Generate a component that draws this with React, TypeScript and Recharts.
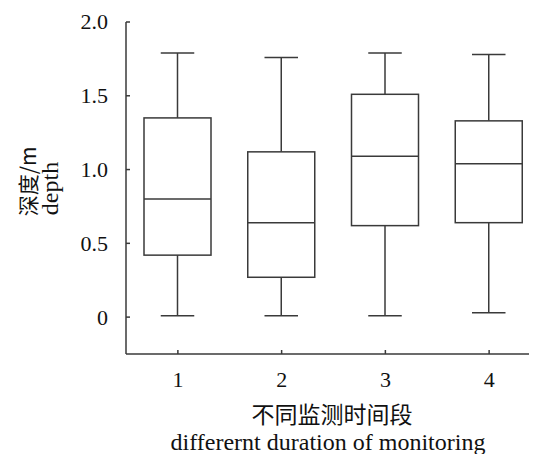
import React from "react";
import { ComposedChart, Bar, XAxis, YAxis } from "recharts";

const categories = ["1", "2", "3", "4"];
const minValues = [0.01, 0.01, 0.01, 0.03];
const q1Values = [0.42, 0.27, 0.62, 0.64];
const medianValues = [0.8, 0.64, 1.09, 1.04];
const q3Values = [1.35, 1.12, 1.51, 1.33];
const maxValues = [1.79, 1.76, 1.79, 1.78];

const yTicks = [0, 0.5, 1.0, 1.5, 2.0];
const yTickLabels = ["0", "0.5", "1.0", "1.5", "2.0"];

const xTitleZh = "不同监测时间段";
const xTitleEn = "differernt duration of monitoring";
const yTitleZh = "深度/m";
const yTitleEn = "depth";

const data = categories.map((c, i) => ({
  name: c,
  range: [minValues[i], maxValues[i]],
  min: minValues[i],
  q1: q1Values[i],
  median: medianValues[i],
  q3: q3Values[i],
  max: maxValues[i],
}));

const STROKE = "#3a3a3a";
const SERIF = "Liberation Serif";
const CJK = "Noto Sans CJK SC";

const BoxShape = (props: any) => {
  const { x, y, width, height, index } = props;
  const d = data[index] ?? props.payload;
  if (!d) return null;
  const top = Math.min(y, y + height);
  const bottom = Math.max(y, y + height);
  const k = (bottom - top) / (d.max - d.min);
  const py = (v: number) => bottom - (v - d.min) * k;
  const cx = x + width / 2;
  const cap = width / 4;
  return (
    <g stroke={STROKE} strokeWidth={1.5} fill="none">
      <line x1={cx - cap} x2={cx + cap} y1={py(d.max)} y2={py(d.max)} />
      <line x1={cx} x2={cx} y1={py(d.max)} y2={py(d.q3)} />
      <rect x={x} y={py(d.q3)} width={width} height={py(d.q1) - py(d.q3)} fill="#fff" />
      <line x1={x} x2={x + width} y1={py(d.median)} y2={py(d.median)} />
      <line x1={cx} x2={cx} y1={py(d.q1)} y2={py(d.min)} />
      <line x1={cx - cap} x2={cx + cap} y1={py(d.min)} y2={py(d.min)} />
    </g>
  );
};

const XTick = (props: any) => {
  const { x, y, payload } = props;
  return (
    <text x={x} y={y} dy="0.71em" textAnchor="middle" fontFamily={SERIF} fontSize={22} fill="#111">
      {payload.value}
    </text>
  );
};

const YTick = (props: any) => {
  const { x, y, payload } = props;
  const idx = yTicks.indexOf(payload.value);
  return (
    <text x={x} y={y} dy="0.34em" textAnchor="end" fontFamily={SERIF} fontSize={22} fill="#111">
      {idx >= 0 ? yTickLabels[idx] : String(payload.value)}
    </text>
  );
};

const YTitle = () => (
  <g fill="#111">
    <text x={28} y={173.5} transform="rotate(-90 28 173.5)" textAnchor="middle" fontFamily={CJK} fontSize={21}>
      {yTitleZh}
    </text>
    <text x={49.5} y={180.5} transform="rotate(-90 49.5 180.5)" textAnchor="middle" fontFamily={SERIF} fontSize={24}>
      {yTitleEn}
    </text>
  </g>
);

const XTitle = () => (
  <g fill="#111">
    <text x={324} y={415} textAnchor="middle" fontFamily={CJK} fontSize={23}>
      {xTitleZh}
    </text>
    <text x={320} y={442} textAnchor="middle" fontFamily={SERIF} fontSize={24}>
      {xTitleEn}
    </text>
  </g>
);

export default function App() {
  return (
    <div style={{ width: 529, height: 446, overflow: "hidden" }}>
      <ComposedChart
        width={537}
        height={446}
        data={data}
        margin={{ top: 14, right: 4, bottom: 70, left: 58 }}
      >
        <XAxis
          dataKey="name"
          type="category"
          height={30}
          axisLine={{ stroke: STROKE, strokeWidth: 1.5 }}
          tickLine={{ stroke: STROKE, strokeWidth: 1.5 }}
          tickSize={-4}
          tickMargin={21}
          tick={<XTick />}
          interval={0}
          label={{ content: () => <XTitle /> }}
        />
        <YAxis
          type="number"
          domain={[-0.25, 2.0]}
          ticks={yTicks}
          interval={0}
          width={60}
          axisLine={{ stroke: STROKE, strokeWidth: 1.5 }}
          tickLine={{ stroke: STROKE, strokeWidth: 1.5 }}
          tickSize={-4}
          tickMargin={22}
          tick={<YTick />}
          allowDataOverflow
          label={{ content: () => <YTitle /> }}
        />
        <Bar dataKey="range" barSize={67} shape={<BoxShape />} isAnimationActive={false} />
      </ComposedChart>
    </div>
  );
}
